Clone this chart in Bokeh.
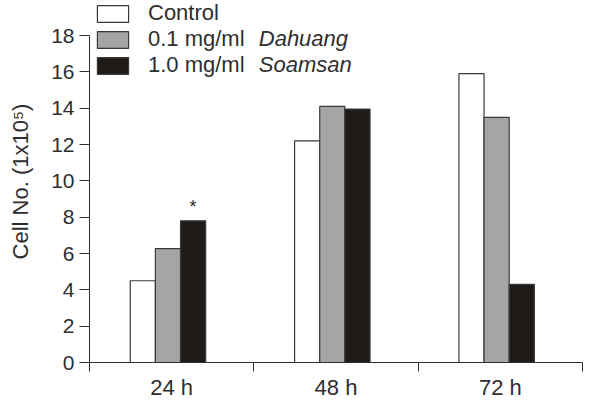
from bokeh.plotting import figure
from bokeh.models import (ColumnDataSource, Legend, LegendItem, FixedTicker, Range1d, Label)
from bokeh.core.properties import value
from bokeh.embed import file_html
from bokeh.resources import INLINE

categories = ["24 h", "48 h", "72 h"]
control = [4.5, 12.2, 15.9]
dahuang = [6.27, 14.1, 13.5]
soamsan = [7.8, 13.95, 4.3]
soamsan_marks = ["*", "", ""]
y_ticks = [0, 2, 4, 6, 8, 10, 12, 14, 16, 18]

FONT = "Liberation Sans"
TXT = "#2e2e2e"
bw = 0.153
shift = -0.0225

p = figure(width=592, height=402, output_backend="svg", toolbar_location=None,
           x_range=Range1d(0, 3), y_range=Range1d(0, 19.93),
           min_border_left=89, min_border_right=10, min_border_top=0, min_border_bottom=37)
p.outline_line_color = None
p.grid.visible = False
p.background_fill_color = "white"
p.border_fill_color = "white"

centers = [i + 0.5 + shift for i in range(len(categories))]
series = [(control, "white", "Control", -bw),
          (dahuang, "#a5a5a5", "0.1 mg/ml", 0.0),
          (soamsan, "#1f1b18", "1.0 mg/ml", bw)]
renderers = []
for vals, col, lab, off in series:
    src = ColumnDataSource(dict(x=[c + off for c in centers], top=vals))
    r = p.vbar(x="x", top="top", bottom=0, width=bw, source=src,
               fill_color=col, line_color="#3a3a3a", line_width=1.2)
    renderers.append((lab, r))

# significance marks
msrc = ColumnDataSource(dict(x=[c + bw for c in centers], y=soamsan, t=soamsan_marks))
p.text(x="x", y="y", text="t", source=msrc, text_align="center", text_baseline="bottom",
       y_offset=-4, text_font=value(FONT), text_font_size="18px", text_color=TXT)

# axes
xa = p.xaxis[0]
xa.ticker = FixedTicker(ticks=[c + 0.5 for c in range(len(categories))], minor_ticks=[0, 1, 2, 3])
xa.major_label_overrides = {i + 0.5: categories[i] for i in range(len(categories))}
xa.major_tick_out = 0
xa.major_tick_in = 0
xa.minor_tick_out = 9
xa.minor_tick_in = 0
xa.minor_tick_line_color = TXT
xa.axis_line_color = TXT
xa.major_label_text_font = FONT
xa.major_label_text_font_size = "22px"
xa.major_label_text_color = TXT
xa.major_label_standoff = 3

ya = p.yaxis[0]
ya.ticker = FixedTicker(ticks=y_ticks)
ya.bounds = (0, 18)
ya.major_tick_out = 10
ya.major_tick_in = 0
ya.minor_tick_out = 0
ya.major_tick_line_color = TXT
ya.axis_line_color = TXT
ya.major_label_text_font = FONT
ya.major_label_text_font_size = "21px"
ya.major_label_text_color = TXT
ya.major_label_standoff = 5
ya.axis_label = "Cell No. (1x10\u2075)"
ya.axis_label_text_font = FONT
ya.axis_label_text_font_size = "22px"
ya.axis_label_text_font_style = "normal"
ya.axis_label_text_color = TXT
ya.axis_label_standoff = 15

legend = Legend(items=[LegendItem(label=l, renderers=[r]) for l, r in renderers],
                location=(4, 284), glyph_width=39, glyph_height=21, label_height=21,
                spacing=0, padding=0, margin=0, label_standoff=16,
                label_text_font=FONT, label_text_font_size="22px", label_text_color=TXT,
                border_line_color=None, background_fill_alpha=0)
p.add_layout(legend)

for word, yv in [("Dahuang", 17.82), ("Soamsan", 16.39)]:
    p.add_layout(Label(x=1.03, y=yv, text=word, text_font=FONT, text_font_size="22px",
                       text_font_style="italic", text_color=TXT, text_baseline="middle"))

open("out.html", "w").write(file_html(p, INLINE))
